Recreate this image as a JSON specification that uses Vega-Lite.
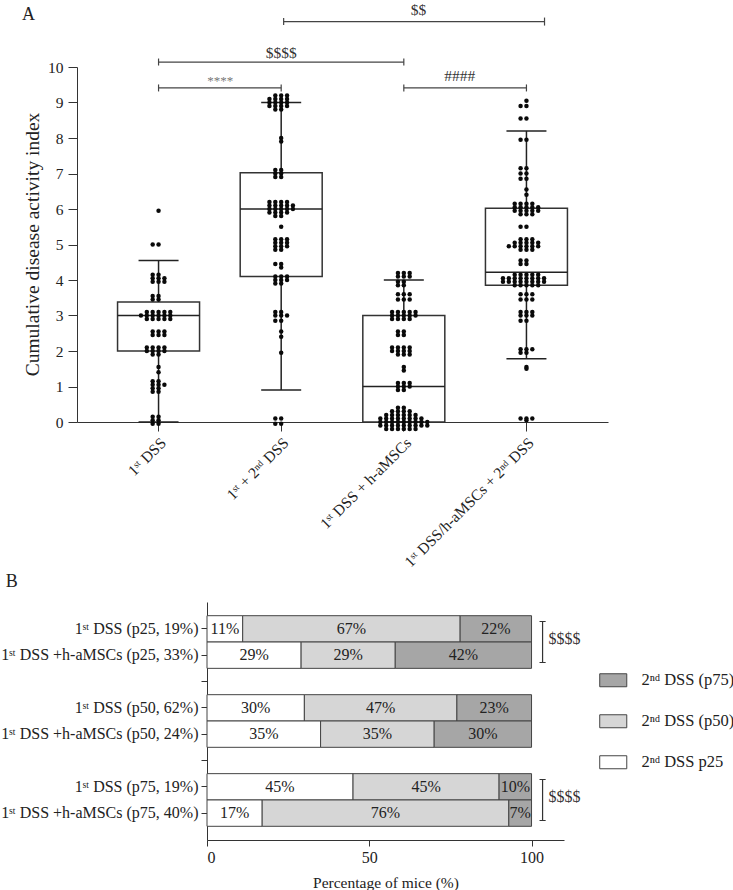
{
  "$schema": "https://vega.github.io/schema/vega-lite/v6.json",
  "padding": {"top": 3, "left": 0, "right": 0, "bottom": 0},
  "config": {
    "font": "Liberation Serif",
    "view": {"stroke": null},
    "axis": {"labelFont": "Liberation Serif", "titleFont": "Liberation Serif", "labelColor": "#222", "titleColor": "#222", "domainColor": "#333", "tickColor": "#333", "grid": false, "labelFontSize": 15, "titleFontSize": 15, "titleFontWeight": "normal"},
    "axisYQuantitative": {"tickCount": 11, "labelOverlap": false},
    "legend": {"labelFont": "Liberation Serif", "labelColor": "#222"},
    "title": {"font": "Liberation Serif", "fontWeight": "normal", "fontSize": 18, "color": "#222"}
  },
  "datasets": {
    "dots": [
      {"g":"g1","v":5.95},{"g":"g1","v":5.0},{"g":"g1","v":5.0},{"g":"g1","v":4.15},{"g":"g1","v":4.15},{"g":"g1","v":4.05},{"g":"g1","v":4.05},{"g":"g1","v":4.05},{"g":"g1","v":3.95},{"g":"g1","v":3.95},{"g":"g1","v":3.95},{"g":"g1","v":3.55},{"g":"g1","v":3.55},{"g":"g1","v":3.45},{"g":"g1","v":3.45},
      {"g":"g1","v":3.1},{"g":"g1","v":3.1},{"g":"g1","v":3.1},{"g":"g1","v":3.1},{"g":"g1","v":3.1},{"g":"g1","v":3.0},{"g":"g1","v":3.0},{"g":"g1","v":3.0},{"g":"g1","v":3.0},{"g":"g1","v":3.0},{"g":"g1","v":3.0},{"g":"g1","v":2.9},{"g":"g1","v":2.9},{"g":"g1","v":2.9},{"g":"g1","v":2.9},{"g":"g1","v":2.9},
      {"g":"g1","v":2.55},{"g":"g1","v":2.55},{"g":"g1","v":2.55},{"g":"g1","v":2.45},{"g":"g1","v":2.45},{"g":"g1","v":2.45},{"g":"g1","v":2.1},{"g":"g1","v":2.1},{"g":"g1","v":2.1},{"g":"g1","v":2.1},{"g":"g1","v":2.0},{"g":"g1","v":2.0},{"g":"g1","v":2.0},{"g":"g1","v":2.0},{"g":"g1","v":1.9},{"g":"g1","v":1.9},
      {"g":"g1","v":1.55},{"g":"g1","v":1.4},{"g":"g1","v":1.15},{"g":"g1","v":1.15},{"g":"g1","v":1.05},{"g":"g1","v":1.05},{"g":"g1","v":1.05},{"g":"g1","v":0.95},{"g":"g1","v":0.95},{"g":"g1","v":0.85},{"g":"g1","v":0.85},{"g":"g1","v":0.15},{"g":"g1","v":0.15},{"g":"g1","v":0.05},{"g":"g1","v":0.05},{"g":"g1","v":-0.05},{"g":"g1","v":-0.05},
      {"g":"g2","v":9.2},{"g":"g2","v":9.2},{"g":"g2","v":9.2},{"g":"g2","v":9.1},{"g":"g2","v":9.1},{"g":"g2","v":9.1},{"g":"g2","v":9.1},{"g":"g2","v":9.0},{"g":"g2","v":9.0},{"g":"g2","v":9.0},{"g":"g2","v":9.0},{"g":"g2","v":8.9},{"g":"g2","v":8.9},{"g":"g2","v":8.9},{"g":"g2","v":8.9},{"g":"g2","v":8.8},{"g":"g2","v":8.8},
      {"g":"g2","v":8.0},{"g":"g2","v":7.9},{"g":"g2","v":7.1},{"g":"g2","v":7.1},{"g":"g2","v":7.0},{"g":"g2","v":7.0},{"g":"g2","v":6.9},{"g":"g2","v":6.9},
      {"g":"g2","v":6.2},{"g":"g2","v":6.2},{"g":"g2","v":6.2},{"g":"g2","v":6.2},{"g":"g2","v":6.1},{"g":"g2","v":6.1},{"g":"g2","v":6.1},{"g":"g2","v":6.1},{"g":"g2","v":6.1},{"g":"g2","v":6.0},{"g":"g2","v":6.0},{"g":"g2","v":6.0},{"g":"g2","v":6.0},{"g":"g2","v":6.0},{"g":"g2","v":5.9},{"g":"g2","v":5.9},{"g":"g2","v":5.9},{"g":"g2","v":5.9},{"g":"g2","v":5.8},{"g":"g2","v":5.8},
      {"g":"g2","v":5.5},{"g":"g2","v":5.15},{"g":"g2","v":5.15},{"g":"g2","v":5.15},{"g":"g2","v":5.05},{"g":"g2","v":5.05},{"g":"g2","v":5.05},{"g":"g2","v":4.95},{"g":"g2","v":4.95},{"g":"g2","v":4.95},{"g":"g2","v":4.85},{"g":"g2","v":4.85},
      {"g":"g2","v":4.45},{"g":"g2","v":4.45},{"g":"g2","v":4.35},{"g":"g2","v":4.1},{"g":"g2","v":4.1},{"g":"g2","v":4.1},{"g":"g2","v":4.0},{"g":"g2","v":4.0},{"g":"g2","v":4.0},{"g":"g2","v":3.9},{"g":"g2","v":3.9},
      {"g":"g2","v":3.1},{"g":"g2","v":3.1},{"g":"g2","v":3.0},{"g":"g2","v":3.0},{"g":"g2","v":3.0},{"g":"g2","v":2.85},{"g":"g2","v":2.85},{"g":"g2","v":2.55},{"g":"g2","v":2.4},{"g":"g2","v":1.95},{"g":"g2","v":0.1},{"g":"g2","v":0.1},{"g":"g2","v":-0.05},{"g":"g2","v":-0.05},
      {"g":"g3","v":4.2},{"g":"g3","v":4.2},{"g":"g3","v":4.2},{"g":"g3","v":4.1},{"g":"g3","v":4.1},{"g":"g3","v":4.1},{"g":"g3","v":3.95},{"g":"g3","v":3.95},{"g":"g3","v":3.85},{"g":"g3","v":3.85},{"g":"g3","v":3.6},{"g":"g3","v":3.6},{"g":"g3","v":3.6},{"g":"g3","v":3.45},{"g":"g3","v":3.45},{"g":"g3","v":3.45},
      {"g":"g3","v":3.1},{"g":"g3","v":3.1},{"g":"g3","v":3.1},{"g":"g3","v":3.1},{"g":"g3","v":3.1},{"g":"g3","v":3.0},{"g":"g3","v":3.0},{"g":"g3","v":3.0},{"g":"g3","v":3.0},{"g":"g3","v":3.0},{"g":"g3","v":2.9},{"g":"g3","v":2.9},{"g":"g3","v":2.9},{"g":"g3","v":2.9},
      {"g":"g3","v":2.55},{"g":"g3","v":2.55},{"g":"g3","v":2.45},{"g":"g3","v":2.45},{"g":"g3","v":2.1},{"g":"g3","v":2.1},{"g":"g3","v":2.1},{"g":"g3","v":2.1},{"g":"g3","v":2.0},{"g":"g3","v":2.0},{"g":"g3","v":2.0},{"g":"g3","v":2.0},{"g":"g3","v":1.9},{"g":"g3","v":1.9},{"g":"g3","v":1.9},
      {"g":"g3","v":1.55},{"g":"g3","v":1.45},{"g":"g3","v":1.1},{"g":"g3","v":1.1},{"g":"g3","v":1.1},{"g":"g3","v":1.0},{"g":"g3","v":1.0},{"g":"g3","v":1.0},{"g":"g3","v":0.9},{"g":"g3","v":0.9},
      {"g":"g3","v":0.4},{"g":"g3","v":0.4},{"g":"g3","v":0.3},{"g":"g3","v":0.3},{"g":"g3","v":0.3},{"g":"g3","v":0.3},{"g":"g3","v":0.2},{"g":"g3","v":0.2},{"g":"g3","v":0.2},{"g":"g3","v":0.2},{"g":"g3","v":0.2},{"g":"g3","v":0.2},
      {"g":"g3","v":0.1},{"g":"g3","v":0.1},{"g":"g3","v":0.1},{"g":"g3","v":0.1},{"g":"g3","v":0.1},{"g":"g3","v":0.1},{"g":"g3","v":0.1},{"g":"g3","v":0.1},
      {"g":"g3","v":0.0},{"g":"g3","v":0.0},{"g":"g3","v":0.0},{"g":"g3","v":0.0},{"g":"g3","v":0.0},{"g":"g3","v":0.0},{"g":"g3","v":0.0},{"g":"g3","v":0.0},{"g":"g3","v":0.0},
      {"g":"g3","v":-0.1},{"g":"g3","v":-0.1},{"g":"g3","v":-0.1},{"g":"g3","v":-0.1},{"g":"g3","v":-0.1},{"g":"g3","v":-0.1},{"g":"g3","v":-0.1},{"g":"g3","v":-0.1},{"g":"g3","v":-0.1},
      {"g":"g3","v":-0.2},{"g":"g3","v":-0.2},{"g":"g3","v":-0.2},{"g":"g3","v":-0.2},{"g":"g3","v":-0.2},{"g":"g3","v":-0.2},
      {"g":"g4","v":9.05},{"g":"g4","v":8.9},{"g":"g4","v":8.9},{"g":"g4","v":8.55},{"g":"g4","v":8.55},{"g":"g4","v":7.95},{"g":"g4","v":7.95},{"g":"g4","v":7.15},{"g":"g4","v":7.15},{"g":"g4","v":7.0},{"g":"g4","v":7.0},{"g":"g4","v":6.85},{"g":"g4","v":6.85},{"g":"g4","v":6.55},{"g":"g4","v":6.4},
      {"g":"g4","v":6.15},{"g":"g4","v":6.15},{"g":"g4","v":6.15},{"g":"g4","v":6.15},{"g":"g4","v":6.05},{"g":"g4","v":6.05},{"g":"g4","v":6.05},{"g":"g4","v":6.05},{"g":"g4","v":6.05},{"g":"g4","v":5.95},{"g":"g4","v":5.95},{"g":"g4","v":5.95},{"g":"g4","v":5.95},{"g":"g4","v":5.95},{"g":"g4","v":5.85},{"g":"g4","v":5.85},{"g":"g4","v":5.85},
      {"g":"g4","v":5.5},{"g":"g4","v":5.5},{"g":"g4","v":5.15},{"g":"g4","v":5.15},{"g":"g4","v":5.15},{"g":"g4","v":5.05},{"g":"g4","v":5.05},{"g":"g4","v":5.05},{"g":"g4","v":5.05},{"g":"g4","v":5.05},{"g":"g4","v":4.95},{"g":"g4","v":4.95},{"g":"g4","v":4.95},{"g":"g4","v":4.95},{"g":"g4","v":4.95},{"g":"g4","v":4.95},{"g":"g4","v":4.85},{"g":"g4","v":4.85},{"g":"g4","v":4.85},
      {"g":"g4","v":4.55},{"g":"g4","v":4.55},{"g":"g4","v":4.45},{"g":"g4","v":4.45},
      {"g":"g4","v":4.15},{"g":"g4","v":4.15},{"g":"g4","v":4.15},{"g":"g4","v":4.15},{"g":"g4","v":4.15},{"g":"g4","v":4.05},{"g":"g4","v":4.05},{"g":"g4","v":4.05},{"g":"g4","v":4.05},{"g":"g4","v":4.05},{"g":"g4","v":4.05},{"g":"g4","v":4.05},{"g":"g4","v":4.05},
      {"g":"g4","v":3.95},{"g":"g4","v":3.95},{"g":"g4","v":3.95},{"g":"g4","v":3.95},{"g":"g4","v":3.95},{"g":"g4","v":3.95},{"g":"g4","v":3.95},{"g":"g4","v":3.95},{"g":"g4","v":3.85},{"g":"g4","v":3.85},{"g":"g4","v":3.85},{"g":"g4","v":3.85},{"g":"g4","v":3.85},
      {"g":"g4","v":3.6},{"g":"g4","v":3.6},{"g":"g4","v":3.6},{"g":"g4","v":3.45},{"g":"g4","v":3.45},{"g":"g4","v":3.45},{"g":"g4","v":3.1},{"g":"g4","v":3.1},{"g":"g4","v":3.1},{"g":"g4","v":3.0},{"g":"g4","v":3.0},{"g":"g4","v":3.0},{"g":"g4","v":2.85},{"g":"g4","v":2.85},
      {"g":"g4","v":2.05},{"g":"g4","v":2.05},{"g":"g4","v":2.05},{"g":"g4","v":1.95},{"g":"g4","v":1.95},{"g":"g4","v":1.55},{"g":"g4","v":1.5},{"g":"g4","v":0.1},{"g":"g4","v":0.1},{"g":"g4","v":0.1},{"g":"g4","v":0.05}
    ],
    "box": [
      {"g":"g1","lo":0,"q1":2.0,"med":3.0,"q3":3.38,"hi":4.55},
      {"g":"g2","lo":0.9,"q1":4.1,"med":6.0,"q3":7.02,"hi":9.0},
      {"g":"g3","lo":0,"q1":0,"med":1.0,"q3":3.0,"hi":4.0},
      {"g":"g4","lo":1.78,"q1":3.85,"med":4.22,"q3":6.02,"hi":8.2}
    ],
    "br": [
      {"from":"g1","to":"g2","y":9.41},
      {"from":"g1","to":"g3","y":10.14},
      {"from":"g3","to":"g4","y":9.41}
    ],
    "br2": [{"from":"g2","to":"g4","y":11.28}],
    "bt": [
      {"g":"g1","y":9.6,"t":"****"},
      {"g":"g3","y":9.75,"t":"####"},
      {"g":"g2","y":10.39,"t":"$$$$"},
      {"g":"g3","y":11.6,"t":"$$"}
    ],
    "bars": [
      {"row":"1ˢᵗ DSS (p25, 19%)","cat":"2ⁿᵈ DSS p25","k":1,"pct":11,"lab":"11%"},
      {"row":"1ˢᵗ DSS (p25, 19%)","cat":"2ⁿᵈ DSS (p50)","k":2,"pct":67,"lab":"67%"},
      {"row":"1ˢᵗ DSS (p25, 19%)","cat":"2ⁿᵈ DSS (p75)","k":3,"pct":22,"lab":"22%"},
      {"row":"1ˢᵗ DSS +h-aMSCs (p25, 33%)","cat":"2ⁿᵈ DSS p25","k":1,"pct":29,"lab":"29%"},
      {"row":"1ˢᵗ DSS +h-aMSCs (p25, 33%)","cat":"2ⁿᵈ DSS (p50)","k":2,"pct":29,"lab":"29%"},
      {"row":"1ˢᵗ DSS +h-aMSCs (p25, 33%)","cat":"2ⁿᵈ DSS (p75)","k":3,"pct":42,"lab":"42%"},
      {"row":"1ˢᵗ DSS (p50, 62%)","cat":"2ⁿᵈ DSS p25","k":1,"pct":30,"lab":"30%"},
      {"row":"1ˢᵗ DSS (p50, 62%)","cat":"2ⁿᵈ DSS (p50)","k":2,"pct":47,"lab":"47%"},
      {"row":"1ˢᵗ DSS (p50, 62%)","cat":"2ⁿᵈ DSS (p75)","k":3,"pct":23,"lab":"23%"},
      {"row":"1ˢᵗ DSS +h-aMSCs (p50, 24%)","cat":"2ⁿᵈ DSS p25","k":1,"pct":35,"lab":"35%"},
      {"row":"1ˢᵗ DSS +h-aMSCs (p50, 24%)","cat":"2ⁿᵈ DSS (p50)","k":2,"pct":35,"lab":"35%"},
      {"row":"1ˢᵗ DSS +h-aMSCs (p50, 24%)","cat":"2ⁿᵈ DSS (p75)","k":3,"pct":30,"lab":"30%"},
      {"row":"1ˢᵗ DSS (p75, 19%)","cat":"2ⁿᵈ DSS p25","k":1,"pct":45,"lab":"45%"},
      {"row":"1ˢᵗ DSS (p75, 19%)","cat":"2ⁿᵈ DSS (p50)","k":2,"pct":45,"lab":"45%"},
      {"row":"1ˢᵗ DSS (p75, 19%)","cat":"2ⁿᵈ DSS (p75)","k":3,"pct":10,"lab":"10%"},
      {"row":"1ˢᵗ DSS +h-aMSCs (p75, 40%)","cat":"2ⁿᵈ DSS p25","k":1,"pct":17,"lab":"17%"},
      {"row":"1ˢᵗ DSS +h-aMSCs (p75, 40%)","cat":"2ⁿᵈ DSS (p50)","k":2,"pct":76,"lab":"76%"},
      {"row":"1ˢᵗ DSS +h-aMSCs (p75, 40%)","cat":"2ⁿᵈ DSS (p75)","k":3,"pct":7,"lab":"7%"}
    ],
    "sig": [
      {"row":"1ˢᵗ DSS (p25, 19%)","t":"$$$$"},
      {"row":"1ˢᵗ DSS (p75, 19%)","t":"$$$$"}
    ]
  },
  "concat": [
    {
      "title": {"text": "A", "anchor": "start", "frame": "bounds", "offset": 0, "dx": 22, "dy": 21, "fontSize": 18},
      "width": 531,
      "height": 355,
      "layer": [
        {
          "data": {"name": "box"},
          "mark": {"type": "bar", "width": 82, "fill": "white", "stroke": "#333", "strokeWidth": 1.5},
          "encoding": {
            "x": {"field": "g", "type": "nominal", "title": null,
              "scale": {"domain": ["g1","g2","g3","g4"], "paddingInner": 0.33, "paddingOuter": 0.33},
              "axis": {"labelAngle": -45, "labelFontSize": 15.5, "tickSize": 9, "labelPadding": 4,
                "labelExpr": "{'g1':'1ˢᵗ DSS','g2':'1ˢᵗ + 2ⁿᵈ DSS','g3':'1ˢᵗ DSS + h-aMSCs','g4':'1ˢᵗ DSS/h-aMSCs + 2ⁿᵈ DSS'}[datum.value]"}},
            "y": {"field": "q1", "type": "quantitative", "title": "Cumulative disease activity index",
              "scale": {"domain": [0, 10], "nice": false},
              "axis": {"values": [0,1,2,3,4,5,6,7,8,9,10], "tickCount": 11, "labelOverlap": false, "titleFontSize": 19.5, "labelFontSize": 15.5,
                "titleX": -45, "titleY": 177, "titleBaseline": "middle", "titleAngle": -90, "minExtent": 77, "tickSize": 9, "labelPadding": 5}},
            "y2": {"field": "q3"}
          }
        },
        {
          "data": {"name": "box"},
          "mark": {"type": "rule", "stroke": "#222", "strokeWidth": 1.5},
          "encoding": {
            "x": {"field": "g", "type": "nominal", "bandPosition": 0.5},
            "y": {"field": "lo", "type": "quantitative"},
            "y2": {"field": "q1"}
          }
        },
        {
          "data": {"name": "box"},
          "mark": {"type": "rule", "stroke": "#222", "strokeWidth": 1.5},
          "encoding": {
            "x": {"field": "g", "type": "nominal", "bandPosition": 0.5},
            "y": {"field": "q3", "type": "quantitative"},
            "y2": {"field": "hi"}
          }
        },
        {
          "data": {"name": "box"},
          "mark": {"type": "tick", "color": "#222", "size": 82, "thickness": 1.6, "opacity": 1},
          "encoding": {
            "x": {"field": "g", "type": "nominal"},
            "y": {"field": "med", "type": "quantitative"}
          }
        },
        {
          "data": {"name": "box"},
          "mark": {"type": "tick", "color": "#222", "size": 40, "thickness": 1.5, "opacity": 1},
          "encoding": {
            "x": {"field": "g", "type": "nominal"},
            "y": {"field": "hi", "type": "quantitative"}
          }
        },
        {
          "data": {"name": "box"},
          "mark": {"type": "tick", "color": "#222", "size": 40, "thickness": 1.5, "opacity": 1},
          "encoding": {
            "x": {"field": "g", "type": "nominal"},
            "y": {"field": "lo", "type": "quantitative"}
          }
        },
        {
          "data": {"name": "dots"},
          "transform": [{"window": [{"op": "row_number", "as": "r"}], "groupby": ["g", "v"]}],
          "mark": {"type": "point", "filled": true, "size": 20, "color": "#0a0a0a", "opacity": 1},
          "encoding": {
            "x": {"field": "g", "type": "nominal"},
            "xOffset": {"field": "r", "type": "nominal", "scale": {"domain": [14,12,10,8,6,4,2,1,3,5,7,9,11,13,15], "paddingInner": 0, "paddingOuter": 0}},
            "y": {"field": "v", "type": "quantitative"}
          }
        },
        {
          "data": {"name": "br"},
          "mark": {"type": "rule", "stroke": "#444", "strokeWidth": 1.2},
          "encoding": {
            "x": {"field": "from", "type": "nominal", "bandPosition": 0.5},
            "x2": {"field": "to", "bandPosition": 0.5},
            "y": {"field": "y", "type": "quantitative"}
          }
        },
        {
          "data": {"name": "br"},
          "transform": [{"fold": ["from", "to"], "as": ["end", "gg"]}],
          "mark": {"type": "point", "shape": "M0,-1L0,1", "size": 49, "filled": false, "stroke": "#444", "strokeWidth": 1.2, "opacity": 1},
          "encoding": {
            "x": {"field": "gg", "type": "nominal"},
            "y": {"field": "y", "type": "quantitative"}
          }
        },
        {
          "data": {"name": "br2"},
          "mark": {"type": "rule", "stroke": "#444", "strokeWidth": 1.2},
          "encoding": {
            "x": {"field": "from", "type": "nominal", "bandPosition": 0.53},
            "x2": {"field": "to", "bandPosition": 0.72},
            "y": {"field": "y", "type": "quantitative"}
          }
        },
        {
          "data": {"name": "br2"},
          "mark": {"type": "point", "shape": "M0,-1L0,1", "size": 64, "filled": false, "stroke": "#444", "strokeWidth": 1.2, "opacity": 1},
          "encoding": {
            "x": {"field": "to", "type": "nominal", "bandPosition": 0.72},
            "y": {"field": "y", "type": "quantitative"}
          }
        },
        {
          "data": {"name": "br2"},
          "mark": {"type": "point", "shape": "M0,-1L0,1", "size": 49, "filled": false, "stroke": "#444", "strokeWidth": 1.2, "opacity": 1},
          "encoding": {
            "x": {"field": "from", "type": "nominal", "bandPosition": 0.53},
            "y": {"field": "y", "type": "quantitative"}
          }
        },
        {
          "data": {"name": "bt"},
          "transform": [{"filter": "datum.t == '****'"}],
          "mark": {"type": "text", "fontSize": 13, "color": "#777", "baseline": "middle"},
          "encoding": {
            "x": {"field": "g", "type": "nominal", "bandPosition": 1.25},
            "y": {"field": "y", "type": "quantitative"},
            "text": {"field": "t"}
          }
        },
        {
          "data": {"name": "bt"},
          "transform": [{"filter": "datum.t == '####'"}],
          "mark": {"type": "text", "fontSize": 15.5, "color": "#333", "baseline": "middle"},
          "encoding": {
            "x": {"field": "g", "type": "nominal", "bandPosition": 1.18},
            "y": {"field": "y", "type": "quantitative"},
            "text": {"field": "t"}
          }
        },
        {
          "data": {"name": "bt"},
          "transform": [{"filter": "datum.t == '$$$$'"}],
          "mark": {"type": "text", "fontSize": 15.5, "color": "#333", "baseline": "middle"},
          "encoding": {
            "x": {"field": "g", "type": "nominal", "bandPosition": 0.5},
            "y": {"field": "y", "type": "quantitative"},
            "text": {"field": "t"}
          }
        },
        {
          "data": {"name": "bt"},
          "transform": [{"filter": "datum.t == '$$'"}],
          "mark": {"type": "text", "fontSize": 15.5, "color": "#333", "baseline": "middle"},
          "encoding": {
            "x": {"field": "g", "type": "nominal", "bandPosition": 0.68},
            "y": {"field": "y", "type": "quantitative"},
            "text": {"field": "t"}
          }
        }
      ]
    },
    {
      "title": {"text": "B", "anchor": "start", "frame": "bounds", "offset": 11, "dx": 5, "fontSize": 18},
      "width": 487,
      "height": 238,
      "layer": [
        {
          "data": {"name": "bars"},
          "mark": {"type": "bar", "stroke": "#444", "strokeWidth": 1},
          "encoding": {
            "y": {"field": "row", "type": "nominal", "title": null,
              "scale": {"domain": ["1ˢᵗ DSS (p25, 19%)", "1ˢᵗ DSS +h-aMSCs (p25, 33%)", " ", "1ˢᵗ DSS (p50, 62%)", "1ˢᵗ DSS +h-aMSCs (p50, 24%)", "  ", "1ˢᵗ DSS (p75, 19%)", "1ˢᵗ DSS +h-aMSCs (p75, 40%)"], "paddingInner": 0, "paddingOuter": 0.52},
              "axis": {"offset": -130, "tickSize": 6, "labelPadding": 3, "labelFontSize": 16, "labelLimit": 320}},
            "x": {"field": "pct", "type": "quantitative", "stack": "zero", "title": "Percentage of mice (%)",
              "scale": {"domain": [0, 110], "nice": false, "range": [130, 487]},
              "axis": {"values": [0, 50, 100], "labelFontSize": 16, "titleFontSize": 15.5, "tickSize": 6, "labelPadding": 3, "titlePadding": 10}},
            "color": {"field": "cat", "type": "nominal",
              "scale": {"domain": ["2ⁿᵈ DSS (p75)", "2ⁿᵈ DSS (p50)", "2ⁿᵈ DSS p25"], "range": ["#a6a6a6", "#d6d6d6", "#ffffff"]},
              "legend": {"orient": "none", "legendX": 528, "legendY": 605, "title": null, "padding": 0,
                "symbolType": "M-2.08,-1H2.08V1H-2.08Z", "symbolSize": 169, "symbolStrokeColor": "#444", "symbolStrokeWidth": 1,
                "labelFontSize": 16.5, "labelOffset": 20, "rowPadding": 23}},
            "order": {"field": "k"}
          }
        },
        {
          "data": {"name": "bars"},
          "mark": {"type": "text", "fontSize": 16, "color": "#222", "baseline": "middle"},
          "encoding": {
            "y": {"field": "row", "type": "nominal"},
            "x": {"field": "pct", "type": "quantitative", "stack": "zero", "bandPosition": 0.5},
            "text": {"field": "lab"},
            "order": {"field": "k"}
          }
        },
        {
          "data": {"name": "sig"},
          "mark": {"type": "point", "shape": "M-0.15,-1H0.15M0,-1V1M-0.15,1H0.15", "size": 1681, "filled": false, "stroke": "#333", "strokeWidth": 1.2, "opacity": 1},
          "encoding": {
            "y": {"field": "row", "type": "nominal", "bandPosition": 1},
            "x": {"datum": 103.4, "type": "quantitative"}
          }
        },
        {
          "data": {"name": "sig"},
          "mark": {"type": "text", "fontSize": 16, "color": "#333", "align": "left", "baseline": "middle", "dx": 6, "dy": -3},
          "encoding": {
            "y": {"field": "row", "type": "nominal", "bandPosition": 1},
            "x": {"datum": 103.4, "type": "quantitative"},
            "text": {"field": "t"}
          }
        }
      ]
    }
  ],
  "columns": 1,
  "spacing": 2
}
